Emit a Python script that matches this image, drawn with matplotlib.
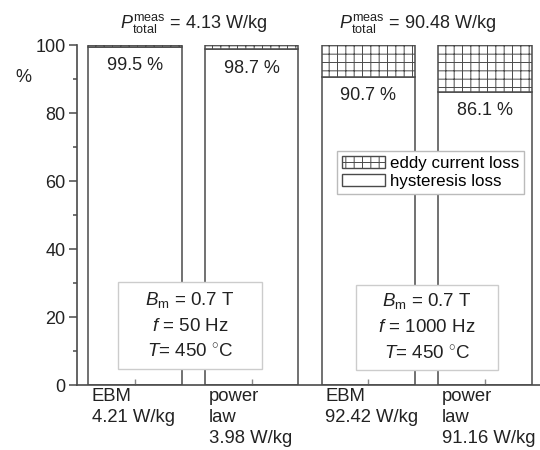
import numpy as np
import matplotlib
matplotlib.use("Agg")
import matplotlib.pyplot as plt
from matplotlib.patches import Patch, Rectangle

plt.rcParams['font.family'] = ['Liberation Sans', 'DejaVu Sans']
plt.rcParams['mathtext.fontset'] = 'custom'
plt.rcParams['mathtext.rm'] = 'Liberation Sans'
plt.rcParams['mathtext.it'] = 'Liberation Sans:italic'
plt.rcParams['hatch.linewidth'] = 0.7
plt.rcParams['hatch.color'] = '#555555'

# datos
posiciones = [1, 2, 3, 4]
histeresis = [99.5, 98.7, 90.7, 86.1]
corrientes = [100 - h for h in histeresis]
etiquetas = ["EBM\n4.21 W/kg", "power\nlaw\n3.98 W/kg",
             "EBM\n92.42 W/kg", "power\nlaw\n91.16 W/kg"]
titulos = [r"$P^{\mathrm{meas}}_{\mathrm{total}}$ = 4.13 W/kg",
           r"$P^{\mathrm{meas}}_{\mathrm{total}}$ = 90.48 W/kg"]
condiciones = ["$B_{\\mathrm{m}}$ = 0.7 T\n$f$ = 50 Hz\n$T$= 450 $^{\\circ}$C",
               "$B_{\\mathrm{m}}$ = 0.7 T\n$f$ = 1000 Hz\n$T$= 450 $^{\\circ}$C"]

gris = '#4a4a4a'
ancho = 0.8

fig = plt.figure(figsize=(5.4, 4.5), dpi=100)
ax = fig.add_axes([0.142, 0.1444, 0.858, 0.7556])

ax.bar(posiciones, histeresis, width=ancho, color='white', edgecolor=gris, linewidth=1.1)
ax.bar(posiciones, corrientes, width=ancho, bottom=histeresis, color='white',
       edgecolor=gris, linewidth=1.1, hatch='++')

for x, h in zip(posiciones, histeresis):
    ax.text(x, h - 5.5, f"{h} %", ha='center', va='center', fontsize=13, color='#222222')

for x, lab in zip(posiciones, etiquetas):
    ax.text(x - ancho / 2 + 0.03, -0.8, lab, ha='left', va='top', fontsize=13.3,
            color='#222222', linespacing=1.32)

ax.text(1.497, 102.8, titulos[0], ha='center', va='bottom', fontsize=13, color='#222222')
ax.text(3.42, 102.8, titulos[1], ha='center', va='bottom', fontsize=13, color='#222222')

# recuadros con condiciones
cajas = [(0.854, 2.088, 4.7, 30.3), (2.89, 4.11, 4.5, 29.5)]
for (x0, x1, y0, y1), txt in zip(cajas, condiciones):
    ax.add_patch(Rectangle((x0, y0), x1 - x0, y1 - y0, facecolor='white',
                           edgecolor='#cccccc', lw=1, zorder=3))
    ax.text((x0 + x1) / 2, (y0 + y1) / 2, txt, ha='center', va='center', fontsize=13.5,
            color='#222222', linespacing=1.6, zorder=4)

ax.text(-0.115, 0.905, "%", transform=ax.transAxes, ha='center', va='center',
        fontsize=13, color='#222222')

ax.set_xlim(0.5, 4.47)
ax.set_ylim(0, 100)
ax.set_yticks([0, 20, 40, 60, 80, 100])
ax.set_yticks([10, 30, 50, 70, 90], minor=True)
ax.set_xticks(posiciones)
ax.set_xticklabels([])
ax.tick_params(axis='y', which='major', length=6, width=1.1, colors=gris,
               labelsize=13, labelcolor='#222222', pad=2)
ax.tick_params(axis='y', which='minor', length=3, width=1.1, colors=gris)
ax.tick_params(axis='x', direction='in', length=4, width=1, colors='#888888')
for s in ['top', 'right']:
    ax.spines[s].set_visible(False)
for s in ['left', 'bottom']:
    ax.spines[s].set_color(gris)
    ax.spines[s].set_linewidth(1.2)

manejadores = [Patch(facecolor='white', edgecolor=gris, hatch='++', lw=1),
               Patch(facecolor='white', edgecolor=gris, lw=1)]
leg = ax.legend(manejadores, ["eddy current loss", "hysteresis loss"],
                loc='upper left', bbox_to_anchor=(0.562, 0.688), borderaxespad=0,
                fancybox=False, fontsize=12.2, handlelength=2.5, handleheight=0.7,
                labelspacing=0.15, handletextpad=0.3, borderpad=0.3, framealpha=1)
leg.get_frame().set_edgecolor('#bbbbbb')
leg.get_frame().set_linewidth(1)

fig.savefig("out.png", dpi=100)
